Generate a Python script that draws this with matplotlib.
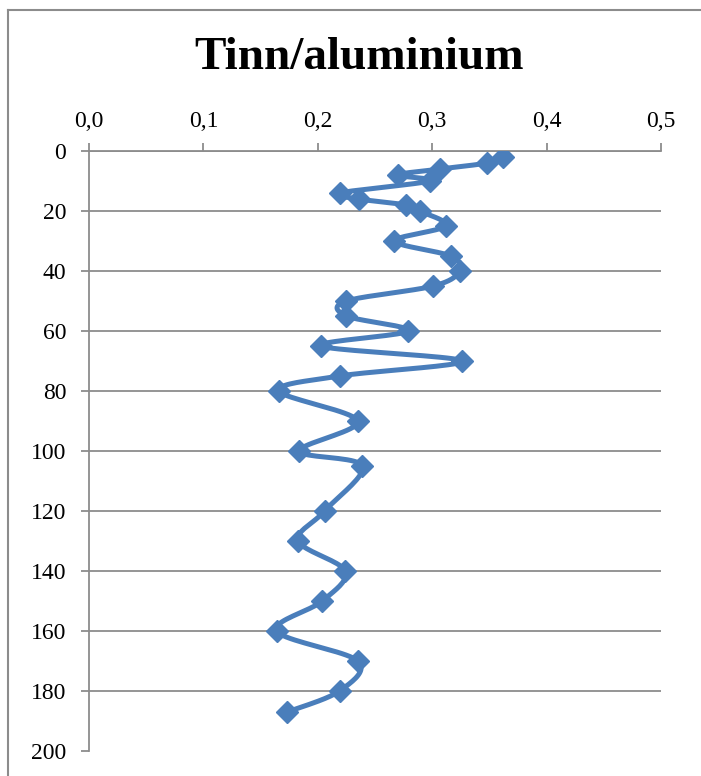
import numpy as np
import matplotlib.pyplot as plt
from matplotlib.ticker import FuncFormatter
from matplotlib.lines import Line2D

# Dybde (y) og forhold tinn/aluminium (x)
depth = [2, 4, 6, 8, 10, 14, 16, 18, 20, 25, 30, 35, 40, 45, 50, 55, 60, 65,
         70, 75, 80, 90, 100, 105, 120, 130, 140, 150, 160, 170, 180, 187]
ratio = [0.362, 0.348, 0.307, 0.270, 0.298, 0.219, 0.236, 0.277, 0.289,
         0.312, 0.267, 0.316, 0.324, 0.301, 0.225, 0.225, 0.279, 0.203,
         0.326, 0.219, 0.166, 0.235, 0.184, 0.239, 0.206, 0.183, 0.224,
         0.204, 0.164, 0.235, 0.219, 0.173]

x_ticks = [0.0, 0.1, 0.2, 0.3, 0.4, 0.5]
y_ticks = [0, 20, 40, 60, 80, 100, 120, 140, 160, 180, 200]

blue = '#4A7EBB'
grey = '#8C8C8C'


def smooth(xs, ys, sx, sy, n=20):
    # catmull-rom i "piksel"-rom, omtrent som Excel sin glatte linje
    p = np.column_stack([np.array(xs) * sx, np.array(ys) * sy])
    p = np.vstack([p[0], p, p[-1]])
    out = []
    for i in range(1, len(p) - 2):
        p0, p1, p2, p3 = p[i - 1], p[i], p[i + 1], p[i + 2]
        t = np.linspace(0, 1, n, endpoint=False)[:, None]
        c = 0.5 * ((2 * p1) + (-p0 + p2) * t + (2 * p0 - 5 * p1 + 4 * p2 - p3) * t**2
                   + (-p0 + 3 * p1 - 3 * p2 + p3) * t**3)
        out.append(c)
    out.append(p[-2][None, :])
    out = np.vstack(out)
    return out[:, 0] / sx, out[:, 1] / sy


plt.rcParams['font.family'] = ['Liberation Serif', 'DejaVu Serif']

fig = plt.figure(figsize=(7.01, 7.76), dpi=100)
ax = fig.add_axes([89 / 701, 1 - 751 / 776, 572 / 701, 600 / 776])

# ramme rundt diagrammet
fig.add_artist(Line2D([8 / 701, 8 / 701], [0, 1 - 10 / 776], color=grey, lw=1.5,
                      transform=fig.transFigure))
fig.add_artist(Line2D([8 / 701, 1], [1 - 10 / 776, 1 - 10 / 776], color=grey, lw=1.5,
                      transform=fig.transFigure))

sx_, sy_ = smooth(ratio, depth, 572 / 0.5, 600 / 200)
ax.plot(sx_, sy_, color=blue, lw=3.6, solid_capstyle='round', zorder=3)
ax.plot(ratio, depth, ls='none', marker='D', ms=11, color=blue, zorder=4)

ax.set_xlim(0, 0.5)
ax.set_ylim(200, 0)
ax.set_xticks(x_ticks)
ax.set_yticks(y_ticks)
ax.xaxis.set_major_formatter(FuncFormatter(lambda v, p: f'{v:.1f}'.replace('.', ',')))
ax.xaxis.tick_top()

for y in y_ticks[:-1]:
    ax.axhline(y, color=grey, lw=1.3, zorder=1)

for s in ['right', 'bottom']:
    ax.spines[s].set_visible(False)
for s in ['left', 'top']:
    ax.spines[s].set_color(grey)
    ax.spines[s].set_linewidth(1.3)
ax.spines['top'].set_zorder(1)

ax.tick_params(axis='both', colors=grey, width=1.3, length=5.8, labelsize=17,
               labelcolor='black')
ax.tick_params(axis='x', pad=8)
ax.tick_params(axis='y', pad=10.5)

fig.text(359 / 701, 1 - 58 / 776, 'Tinn/aluminium', ha='center', va='center',
         fontsize=34, fontweight='bold')

fig.savefig('out.png', dpi=100)
